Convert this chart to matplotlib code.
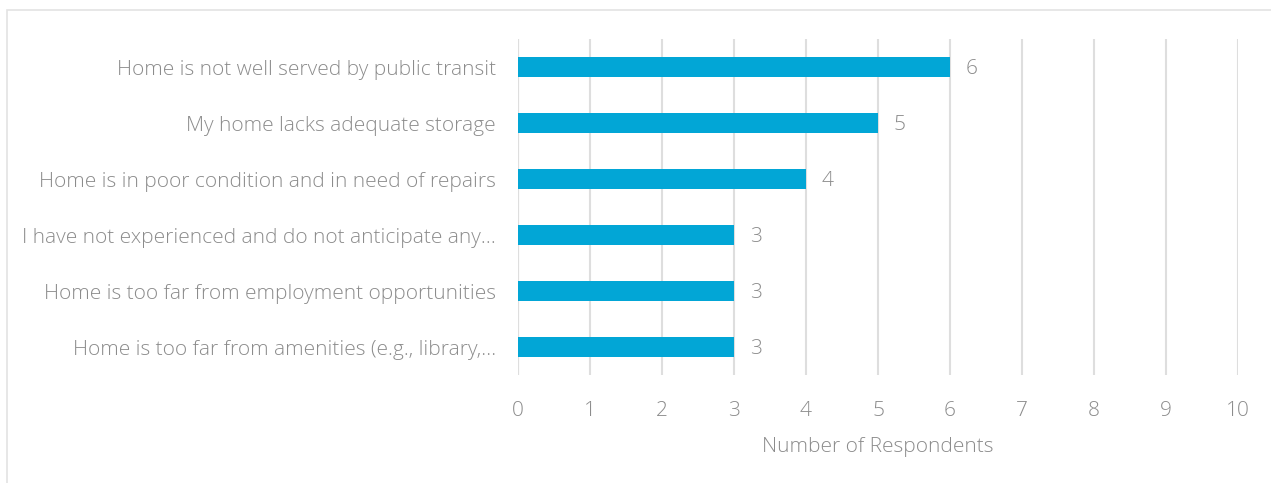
import matplotlib
matplotlib.use("Agg")
import matplotlib.pyplot as plt
from matplotlib.patches import Rectangle

# survey responses, listed top to bottom
categories = [
    "Home is not well served by public transit",
    "My home lacks adequate storage",
    "Home is in poor condition and in need of repairs",
    "I have not experienced and do not anticipate any\u2026",
    "Home is too far from employment opportunities",
    "Home is too far from amenities (e.g., library,\u2026",
]
counts = [6, 5, 4, 3, 3, 3]
x_ticks = list(range(0, 11))

BAR = "#02a6d6"
TXT = "#8c8c8c"
GRID = "#dedede"
FONT = ["Open Sans", "DejaVu Sans"]
FS = 15

plt.rcParams["font.family"] = FONT
plt.rcParams["font.weight"] = "light"
plt.rcParams["axes.labelweight"] = "light"

W, H = 1271, 483
fig = plt.figure(figsize=(W / 100, H / 100), dpi=100)
ax = fig.add_axes([518 / W, 1 - 375 / H, (1238 - 518) / W, (375 - 39) / H])

# outer chart frame
fig.patches.append(Rectangle((7 / W, -0.05), 1.2, 1 - 10 / H + 0.05, transform=fig.transFigure,
                             fill=False, edgecolor="#e3e3e3", lw=1.2))

y = list(range(len(categories)))
ax.barh(y, counts, height=0.36, color=BAR, zorder=3)
for yi, v in zip(y, counts):
    ax.text(v + 0.22, yi + 0.04, str(v), va="center", ha="left", fontsize=FS, color=TXT)

ax.set_xlim(0, 10)
ax.set_ylim(len(categories) - 0.5, -0.5)
ax.set_xticks(x_ticks)
ax.set_xticklabels([str(t) for t in x_ticks], fontsize=FS, color=TXT)
ax.set_yticks(y)
ax.set_yticklabels(categories, fontsize=FS, color=TXT)
ax.tick_params(length=0)
ax.tick_params(axis="x", pad=19)
ax.tick_params(axis="y", pad=16)
ax.xaxis.grid(True, color=GRID, lw=1.5, zorder=0)
ax.yaxis.grid(False)
for s in ax.spines.values():
    s.set_visible(False)
ax.axvline(0, color=GRID, lw=1.5, zorder=1)

ax.set_xlabel("Number of Respondents", fontsize=FS, color=TXT, fontweight="light", labelpad=11)

fig.savefig("out.png", dpi=100, facecolor="white")
